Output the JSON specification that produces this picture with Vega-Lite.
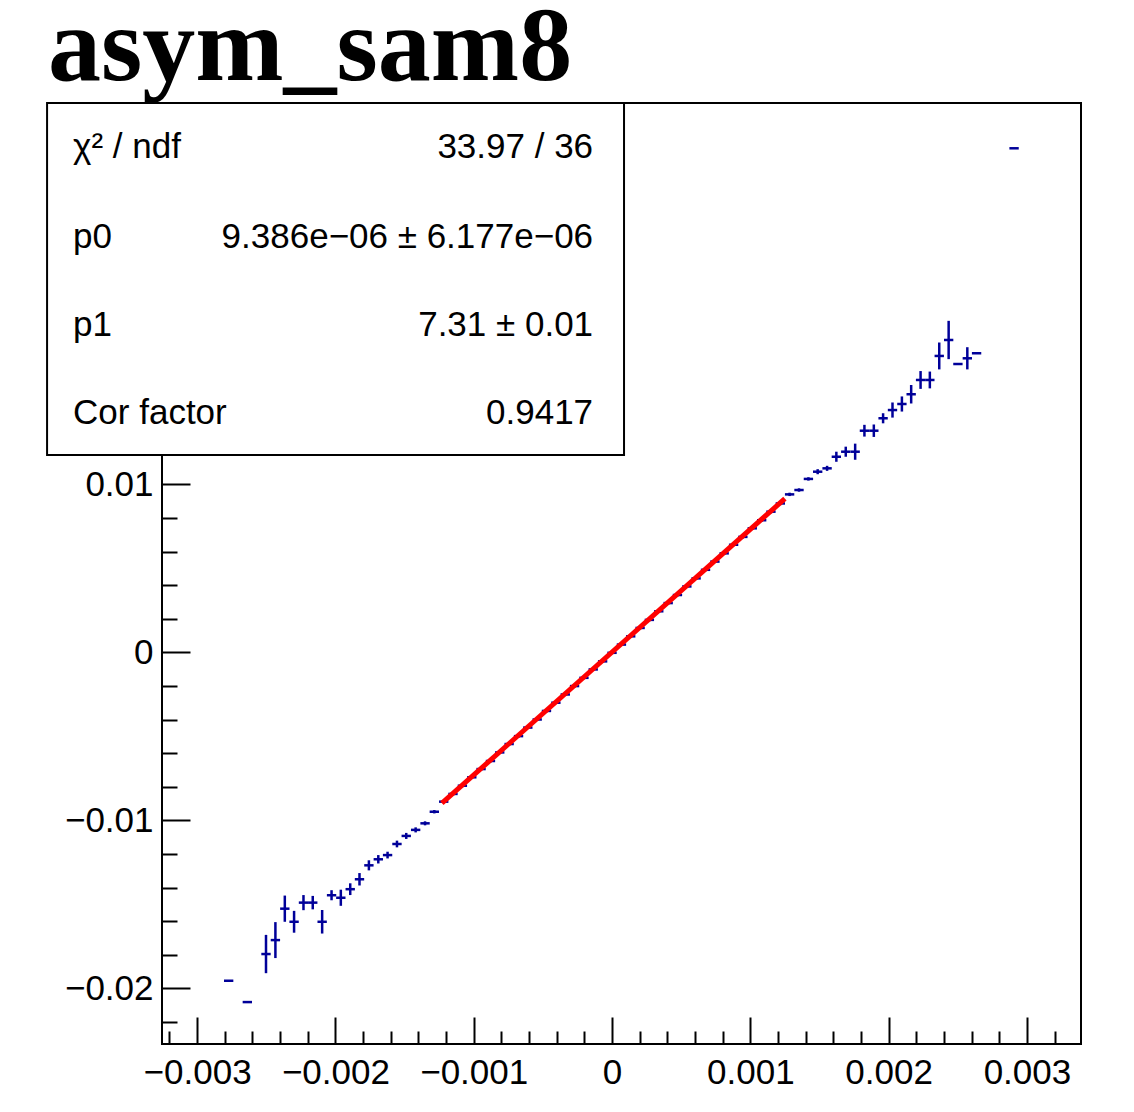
{
  "$schema": "https://vega.github.io/schema/vega-lite/v6.json",
  "width": 919,
  "height": 941,
  "autosize": "none",
  "padding": {"left": 162, "top": 103, "right": 53, "bottom": 68},
  "background": "white",
  "config": {"view": {"stroke": "black", "strokeWidth": 2}, "font": "Liberation Sans"},
  "datasets": {
    "pts": [
      {"x": -0.002772, "y": -0.01955, "xerr": 0.0000338, "yerr": 0},
      {"x": -0.002637, "y": -0.02082, "xerr": 0.0000338, "yerr": 0},
      {"x": -0.002502, "y": -0.01796, "xerr": 0.0000338, "yerr": 0.00114},
      {"x": -0.002434, "y": -0.01713, "xerr": 0.0000338, "yerr": 0.00107},
      {"x": -0.002366, "y": -0.01526, "xerr": 0.0000338, "yerr": 0.00078},
      {"x": -0.002299, "y": -0.01604, "xerr": 0.0000338, "yerr": 0.00065},
      {"x": -0.002231, "y": -0.01490, "xerr": 0.0000338, "yerr": 0.00045},
      {"x": -0.002164, "y": -0.01490, "xerr": 0.0000338, "yerr": 0.00040},
      {"x": -0.002096, "y": -0.01604, "xerr": 0.0000338, "yerr": 0.00070},
      {"x": -0.002028, "y": -0.01446, "xerr": 0.0000338, "yerr": 0.00030},
      {"x": -0.001961, "y": -0.01461, "xerr": 0.0000338, "yerr": 0.00048},
      {"x": -0.001893, "y": -0.01410, "xerr": 0.0000338, "yerr": 0.00035},
      {"x": -0.001826, "y": -0.01351, "xerr": 0.0000338, "yerr": 0.00037},
      {"x": -0.001758, "y": -0.01268, "xerr": 0.0000338, "yerr": 0.00030},
      {"x": -0.001690, "y": -0.01232, "xerr": 0.0000338, "yerr": 0.00025},
      {"x": -0.001623, "y": -0.01207, "xerr": 0.0000338, "yerr": 0.00020},
      {"x": -0.001555, "y": -0.01141, "xerr": 0.0000338, "yerr": 0.00020},
      {"x": -0.001488, "y": -0.01093, "xerr": 0.0000338, "yerr": 0.00018},
      {"x": -0.001420, "y": -0.01057, "xerr": 0.0000338, "yerr": 0.00015},
      {"x": -0.001352, "y": -0.01018, "xerr": 0.0000338, "yerr": 0.00012},
      {"x": -0.001285, "y": -0.00949, "xerr": 0.0000338, "yerr": 0.00010},
      {"x": -0.001217, "y": -0.00889, "xerr": 0.0000338, "yerr": 0.00010},
      {"x": -0.001150, "y": -0.00843, "xerr": 0.0000338, "yerr": 0.00009},
      {"x": -0.001082, "y": -0.00794, "xerr": 0.0000338, "yerr": 0.00009},
      {"x": -0.001014, "y": -0.00744, "xerr": 0.0000338, "yerr": 0.00009},
      {"x": -0.000947, "y": -0.00695, "xerr": 0.0000338, "yerr": 0.00008},
      {"x": -0.000879, "y": -0.00647, "xerr": 0.0000338, "yerr": 0.00008},
      {"x": -0.000812, "y": -0.00596, "xerr": 0.0000338, "yerr": 0.00008},
      {"x": -0.000744, "y": -0.00546, "xerr": 0.0000338, "yerr": 0.00008},
      {"x": -0.000676, "y": -0.00499, "xerr": 0.0000338, "yerr": 0.00008},
      {"x": -0.000609, "y": -0.00448, "xerr": 0.0000338, "yerr": 0.00008},
      {"x": -0.000541, "y": -0.00400, "xerr": 0.0000338, "yerr": 0.00008},
      {"x": -0.000474, "y": -0.00349, "xerr": 0.0000338, "yerr": 0.00008},
      {"x": -0.000406, "y": -0.00300, "xerr": 0.0000338, "yerr": 0.00008},
      {"x": -0.000338, "y": -0.00251, "xerr": 0.0000338, "yerr": 0.00008},
      {"x": -0.000271, "y": -0.00201, "xerr": 0.0000338, "yerr": 0.00008},
      {"x": -0.000203, "y": -0.00152, "xerr": 0.0000338, "yerr": 0.00008},
      {"x": -0.000136, "y": -0.00102, "xerr": 0.0000338, "yerr": 0.00008},
      {"x": -0.000068, "y": -0.00054, "xerr": 0.0000338, "yerr": 0.00008},
      {"x": 0.000000, "y": -0.00003, "xerr": 0.0000338, "yerr": 0.00008},
      {"x": 0.000068, "y": 0.00046, "xerr": 0.0000338, "yerr": 0.00008},
      {"x": 0.000135, "y": 0.00095, "xerr": 0.0000338, "yerr": 0.00008},
      {"x": 0.000203, "y": 0.00145, "xerr": 0.0000338, "yerr": 0.00008},
      {"x": 0.000270, "y": 0.00193, "xerr": 0.0000338, "yerr": 0.00008},
      {"x": 0.000338, "y": 0.00244, "xerr": 0.0000338, "yerr": 0.00008},
      {"x": 0.000406, "y": 0.00293, "xerr": 0.0000338, "yerr": 0.00008},
      {"x": 0.000473, "y": 0.00341, "xerr": 0.0000338, "yerr": 0.00008},
      {"x": 0.000541, "y": 0.00392, "xerr": 0.0000338, "yerr": 0.00008},
      {"x": 0.000608, "y": 0.00440, "xerr": 0.0000338, "yerr": 0.00008},
      {"x": 0.000676, "y": 0.00491, "xerr": 0.0000338, "yerr": 0.00008},
      {"x": 0.000744, "y": 0.00540, "xerr": 0.0000338, "yerr": 0.00008},
      {"x": 0.000811, "y": 0.00589, "xerr": 0.0000338, "yerr": 0.00008},
      {"x": 0.000879, "y": 0.00640, "xerr": 0.0000338, "yerr": 0.00008},
      {"x": 0.000946, "y": 0.00687, "xerr": 0.0000338, "yerr": 0.00009},
      {"x": 0.001014, "y": 0.00738, "xerr": 0.0000338, "yerr": 0.00009},
      {"x": 0.001082, "y": 0.00786, "xerr": 0.0000338, "yerr": 0.00009},
      {"x": 0.001149, "y": 0.00837, "xerr": 0.0000338, "yerr": 0.00010},
      {"x": 0.001217, "y": 0.00886, "xerr": 0.0000338, "yerr": 0.00010},
      {"x": 0.001284, "y": 0.00940, "xerr": 0.0000338, "yerr": 0.00010},
      {"x": 0.001352, "y": 0.00966, "xerr": 0.0000338, "yerr": 0.00010},
      {"x": 0.001420, "y": 0.01032, "xerr": 0.0000338, "yerr": 0.00010},
      {"x": 0.001487, "y": 0.01075, "xerr": 0.0000338, "yerr": 0.00015},
      {"x": 0.001555, "y": 0.01095, "xerr": 0.0000338, "yerr": 0.00015},
      {"x": 0.001622, "y": 0.01164, "xerr": 0.0000338, "yerr": 0.00030},
      {"x": 0.001690, "y": 0.01194, "xerr": 0.0000338, "yerr": 0.00030},
      {"x": 0.001758, "y": 0.01194, "xerr": 0.0000338, "yerr": 0.00048},
      {"x": 0.001825, "y": 0.01319, "xerr": 0.0000338, "yerr": 0.00035},
      {"x": 0.001893, "y": 0.01319, "xerr": 0.0000338, "yerr": 0.00037},
      {"x": 0.001960, "y": 0.01393, "xerr": 0.0000338, "yerr": 0.00030},
      {"x": 0.002028, "y": 0.01442, "xerr": 0.0000338, "yerr": 0.00045},
      {"x": 0.002096, "y": 0.01478, "xerr": 0.0000338, "yerr": 0.00045},
      {"x": 0.002163, "y": 0.01536, "xerr": 0.0000338, "yerr": 0.00055},
      {"x": 0.002231, "y": 0.01621, "xerr": 0.0000338, "yerr": 0.00053},
      {"x": 0.002298, "y": 0.01621, "xerr": 0.0000338, "yerr": 0.00050},
      {"x": 0.002366, "y": 0.01764, "xerr": 0.0000338, "yerr": 0.00080},
      {"x": 0.002434, "y": 0.01859, "xerr": 0.0000338, "yerr": 0.00114},
      {"x": 0.002501, "y": 0.01716, "xerr": 0.0000338, "yerr": 0},
      {"x": 0.002569, "y": 0.01750, "xerr": 0.0000338, "yerr": 0.00066},
      {"x": 0.002636, "y": 0.01780, "xerr": 0.0000338, "yerr": 0},
      {"x": 0.002907, "y": 0.03000, "xerr": 0.0000338, "yerr": 0}
    ],
    "fit": [
      {"x": -0.00123, "y": -0.008982},
      {"x": 0.00125, "y": 0.009147}
    ],
    "box": [
      {"x": -0.004085, "x2": 0.0000868, "y": 0.011744, "y2": 0.032696}
    ],
    "titleText": [
      {"x": -0.004078, "y": 0.034065, "text": "asym_sam8"}
    ],
    "statsLeft": [
      {"x": -0.003897, "y": 0.030077, "text": "χ² / ndf"},
      {"x": -0.003897, "y": 0.024720, "text": "p0"},
      {"x": -0.003897, "y": 0.019482, "text": "p1"},
      {"x": -0.003897, "y": 0.014244, "text": "Cor factor"}
    ],
    "statsRight": [
      {"x": -0.000137, "y": 0.030077, "text": "33.97 / 36"},
      {"x": -0.000137, "y": 0.024720, "text": "9.386e−06 ± 6.177e−06"},
      {"x": -0.000137, "y": 0.019482, "text": "7.31 ± 0.01"},
      {"x": -0.000137, "y": 0.014244, "text": "0.9417"}
    ]
  },
  "encoding": {
    "x": {
      "field": "x", "type": "quantitative",
      "scale": {"domain": [-0.003254, 0.003391], "nice": false, "zero": false},
      "axis": {
        "title": null, "zindex": 0, "domain": false, "grid": false,
        "values": [-0.0032, -0.003, -0.0028, -0.0026, -0.0024, -0.0022, -0.002, -0.0018, -0.0016, -0.0014, -0.0012, -0.001, -0.0008, -0.0006, -0.0004, -0.0002, 0, 0.0002, 0.0004, 0.0006, 0.0008, 0.001, 0.0012, 0.0014, 0.0016, 0.0018, 0.002, 0.0022, 0.0024, 0.0026, 0.0028, 0.003, 0.0032],
        "tickColor": "black", "tickWidth": 2,
        "tickSize": {"condition": {"test": "abs(datum.value*1000 - round(datum.value*1000)) < 0.0001", "value": -27}, "value": -13},
        "labelExpr": "abs(datum.value*1000 - round(datum.value*1000)) < 0.0001 ? format(datum.value, '~g') : ''",
        "labelFont": "Liberation Sans", "labelFontSize": 35, "labelColor": "black",
        "labelPadding": 38, "labelFlush": false, "labelOverlap": false, "labelBound": false
      }
    },
    "y": {
      "field": "y", "type": "quantitative",
      "scale": {"domain": [-0.023315, 0.032696], "nice": false, "zero": false},
      "axis": {
        "title": null, "zindex": 0, "domain": false, "grid": false,
        "values": [-0.022, -0.02, -0.018, -0.016, -0.014, -0.012, -0.01, -0.008, -0.006, -0.004, -0.002, 0, 0.002, 0.004, 0.006, 0.008, 0.01, 0.012, 0.014, 0.016, 0.018, 0.02, 0.022, 0.024, 0.026, 0.028, 0.03, 0.032],
        "tickColor": "black", "tickWidth": 2,
        "tickSize": {"condition": {"test": "abs(datum.value*100 - round(datum.value*100)) < 0.0001", "value": -28}, "value": -15},
        "labelExpr": "abs(datum.value*100 - round(datum.value*100)) < 0.0001 && datum.value < 0.011 ? format(datum.value, '~g') : ''",
        "labelFont": "Liberation Sans", "labelFontSize": 35, "labelColor": "black",
        "labelPadding": 37, "labelFlush": false, "labelOverlap": false, "labelBound": false
      }
    }
  },
  "layer": [
    {
      "data": {"name": "pts"},
      "mark": {"type": "errorbar", "color": "#000099", "thickness": 2.5},
      "encoding": {"xError": {"field": "xerr"}}
    },
    {
      "data": {"name": "pts"},
      "mark": {"type": "errorbar", "color": "#000099", "thickness": 2.5},
      "encoding": {"yError": {"field": "yerr"}}
    },
    {
      "data": {"name": "fit"},
      "mark": {"type": "line", "color": "#ff0000", "strokeWidth": 5, "clip": true},
      "encoding": {}
    },
    {
      "data": {"name": "box"},
      "mark": {"type": "rect", "fill": "white", "stroke": "black", "strokeWidth": 2, "clip": false},
      "encoding": {
        "x2": {"field": "x2"},
        "y2": {"field": "y2"}
      }
    },
    {
      "data": {"name": "statsLeft"},
      "mark": {"type": "text", "align": "left", "baseline": "middle", "font": "Liberation Sans", "fontSize": 35, "color": "black", "clip": false},
      "encoding": {"text": {"field": "text"}}
    },
    {
      "data": {"name": "statsRight"},
      "mark": {"type": "text", "align": "right", "baseline": "middle", "font": "Liberation Sans", "fontSize": 35, "color": "black", "clip": false},
      "encoding": {"text": {"field": "text"}}
    },
    {
      "data": {"name": "titleText"},
      "mark": {"type": "text", "align": "left", "baseline": "alphabetic", "font": "Liberation Serif", "fontWeight": "bold", "fontSize": 106, "color": "black", "clip": false},
      "encoding": {"text": {"field": "text"}}
    }
  ]
}
